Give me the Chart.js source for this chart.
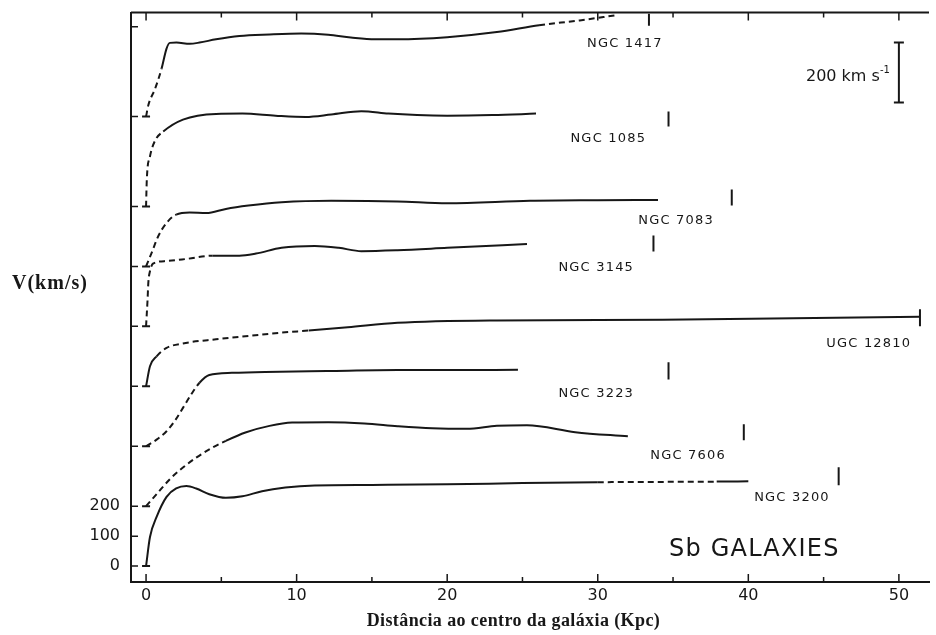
<!DOCTYPE html>
<html>
<head>
<meta charset="utf-8">
<script src="https://cdn.jsdelivr.net/npm/chart.js@4.4.0/dist/chart.umd.min.js"></script>
<style>
  html, body { margin: 0; padding: 0; background: #fff; }
  #wrap { width: 936px; height: 635px; }
</style>
</head>
<body>
<div id="wrap"><canvas id="rot"></canvas></div>
<script>
// rotation curves, radius in kpc, velocity in km/s (each curve shifted up by its offset)
const names   = ['NGC 1417', 'NGC 1085', 'NGC 7083', 'NGC 3145', 'UGC 12810', 'NGC 3223', 'NGC 7606', 'NGC 3200'];
const offsets = [1500, 1200, 1000, 800, 600, 400, 200, 0];

const r1417 = [0, 0.15, 0.6, 1.03, 1.36, 1.58, 2.02, 2.9, 3.55, 4.65, 6.2, 8.2, 10.3, 12.1, 13.6, 15.2, 16.7, 20, 23.3, 26.1, 28.8, 31.2];
const v1417 = [0, 38, 93, 160, 227, 246, 247, 243, 247, 258, 269, 274, 277, 273, 264, 258, 258, 265, 282, 305, 321, 338];

const r1085 = [0, 0.05, 0.26, 0.6, 1.14, 2.45, 4.65, 6.4, 8.6, 10.6, 12.3, 14.3, 16.1, 18, 20, 23, 25.9];
const v1085 = [0, 90, 167, 220, 250, 290, 309, 310, 303, 299, 307, 318, 310, 305, 303, 305, 310];

const r7083 = [0, 0.37, 0.8, 1.36, 2.0, 2.9, 4.0, 5.3, 6.8, 9.0, 12.3, 16.7, 20, 25.5, 30, 34];
const v7083 = [0, 45, 100, 145, 173, 180, 178, 192, 203, 214, 219, 217, 211, 219, 221, 222];

const r3145 = [0, 0.1, 0.15, 0.26, 0.48, 1.36, 2.68, 4.4, 6.2, 7.3, 9.0, 11.2, 12.8, 14.3, 16.7, 20, 25.3];
const v3145 = [0, 89, 145, 184, 210, 218, 225, 236, 236, 243, 262, 268, 262, 251, 254, 262, 275];

const r12810 = [0, 0.26, 0.7, 1.36, 2.45, 4.65, 6.8, 9.0, 10.8, 13.4, 16.7, 23.3, 34.3, 43, 51.4];
const v12810 = [0, 67, 100, 128, 143, 157, 168, 179, 186, 197, 212, 220, 222, 227, 232];

const r3223 = [0, 0.7, 1.36, 1.9, 2.45, 3.0, 3.55, 4.2, 5.7, 7.9, 12, 16.7, 20, 24.7];
const v3223 = [0, 22, 50, 84, 128, 173, 212, 238, 245, 248, 251, 254, 254, 255];

const r7606 = [0, 0.7, 1.58, 2.45, 3.33, 4.43, 5.3, 6.6, 8.2, 9.7, 12.1, 14.5, 16.7, 19, 21.3, 23.3, 25.3, 28.5, 32];
const v7606 = [0, 40, 90, 129, 162, 196, 218, 246, 268, 279, 280, 276, 267, 260, 258, 268, 270, 247, 233];

const r3200 = [0, 0.26, 0.7, 1.36, 2.0, 2.68, 3.33, 4.2, 5.3, 6.4, 7.7, 9.25, 11.2, 15, 20, 25, 30, 34, 37.9, 40];
const v3200 = [0, 97, 164, 231, 259, 267, 259, 240, 228, 233, 250, 262, 269, 271, 273, 277, 280, 281, 282, 283];

// radius ranges drawn dashed
const dashed = [[[0, 1.0], [26.4, 32]], [[0, 1.3]], [[0, 2.0]], [[0, 4.3]], [[0.8, 10.8]], [[0, 3.7]], [[0, 5.3]], [[30.3, 37.8]]];

// short vertical marks beside each curve: radius and velocity span
const markR = [33.4, 34.7, 38.9, 33.7, 51.4, 34.7, 39.7, 46];
const markV = [[303, 343], [267, 317], [203, 257], [250, 303], [200, 257], [223, 280], [220, 273], [270, 330]];

const xTicks = [0, 10, 20, 30, 40, 50];
const yTickLabels = [0, 100, 200];
const yTickMarks = [0, 100, 200, 400, 600, 800, 1000, 1200, 1500, 1800];

const curves = [[r1417, v1417], [r1085, v1085], [r7083, v7083], [r3145, v3145],
                [r12810, v12810], [r3223, v3223], [r7606, v7606], [r3200, v3200]];

// label anchors (data units)
const notes = [[31.8, 1743], [30.7, 1427], [35.2, 1153], [29.9, 997], [48.0, 743], [29.9, 577], [36.0, 370], [42.9, 227]];

const INK = '#171717';

const inDash = (ranges, x) => ranges.some(([a, b]) => x >= a && x <= b);

const datasets = curves.map(([r, v], i) => ({
  data: r.map((x, j) => ({ x: x, y: v[j] + offsets[i] })),
  borderColor: INK,
  borderWidth: 2,
  cubicInterpolationMode: 'monotone',
  pointRadius: c => c.dataIndex === 0 ? 4 : 0,
  pointStyle: 'line',
  pointBorderColor: INK,
  pointBorderWidth: 2,
  segment: {
    borderDash: c => inDash(dashed[i], (c.p0.parsed.x + c.p1.parsed.x) / 2) ? [6, 4] : undefined
  }
}));

const markData = [];
markR.forEach((x, i) => {
  markData.push({ x: x, y: markV[i][0] + offsets[i] }, { x: x, y: markV[i][1] + offsets[i] }, { x: x, y: null });
});
datasets.push({ data: markData, borderColor: INK, borderWidth: 2, pointRadius: 0, spanGaps: false, tension: 0 });

// 200 km/s scale bar
datasets.push({
  data: [{ x: 50, y: 1547 }, { x: 50, y: 1747 }],
  borderColor: INK, borderWidth: 2, tension: 0,
  pointStyle: 'line', pointRadius: 5, pointBorderColor: INK, pointBorderWidth: 2
});

const decor = {
  id: 'decor',
  afterDraw(chart) {
    const { ctx, chartArea: a, scales: { x, y } } = chart;
    ctx.save();
    ctx.strokeStyle = INK;
    ctx.lineWidth = 2;
    ctx.beginPath();
    ctx.moveTo(a.left, a.top);
    ctx.lineTo(a.right, a.top);
    ctx.stroke();

    ctx.lineWidth = 1.5;
    ctx.beginPath();
    for (let k = 0; k <= 50; k += 5) {
      const px = x.getPixelForValue(k);
      const len = k % 10 === 0 ? 8 : 5;
      ctx.moveTo(px, a.bottom); ctx.lineTo(px, a.bottom - len);
      ctx.moveTo(px, a.top); ctx.lineTo(px, a.top + len);
    }
    yTickMarks.forEach(v => {
      const py = y.getPixelForValue(v);
      ctx.moveTo(a.left, py); ctx.lineTo(a.left + 7, py);
    });
    ctx.stroke();

    ctx.fillStyle = INK;
    ctx.textAlign = 'center';
    ctx.textBaseline = 'middle';
    ctx.font = '13px "DejaVu Sans"';
    ctx.letterSpacing = '1.2px';
    names.forEach((n, i) => {
      ctx.fillText(n, x.getPixelForValue(notes[i][0]), y.getPixelForValue(notes[i][1]));
    });

    ctx.font = '24px "DejaVu Sans"';
    ctx.letterSpacing = '1.2px';
    ctx.fillText('Sb GALAXIES', x.getPixelForValue(40.4), y.getPixelForValue(53));

    ctx.letterSpacing = '0px';
    ctx.textAlign = 'right';
    ctx.font = '10px "DejaVu Sans"';
    const sx = x.getPixelForValue(49.4), sy = y.getPixelForValue(1633);
    ctx.fillText('-1', sx, sy - 6);
    const w = ctx.measureText('-1').width;
    ctx.font = '16px "DejaVu Sans"';
    ctx.fillText('200 km s', sx - w, sy);

    ctx.font = 'bold 18px "Liberation Serif"';
    ctx.letterSpacing = '0.4px';
    ctx.textAlign = 'center';
    ctx.fillText('Distância ao centro da galáxia (Kpc)', x.getPixelForValue(24.4), 621);
    ctx.font = 'bold 20px "Liberation Serif"';
    ctx.letterSpacing = '1px';
    ctx.textAlign = 'left';
    ctx.fillText('V(km/s)', 12, 284);
    ctx.restore();
  }
};

new Chart(document.getElementById('rot'), {
  type: 'line',
  data: { datasets: datasets },
  options: {
    responsive: true,
    maintainAspectRatio: false,
    animation: false,
    devicePixelRatio: 1,
    layout: { padding: { top: 12, right: 0, bottom: 0, left: 0 } },
    plugins: { legend: { display: false }, tooltip: { enabled: false } },
    scales: {
      x: {
        type: 'linear', min: -1, max: 52,
        grid: { display: false },
        border: { display: true, color: INK, width: 2 },
        ticks: { color: INK, padding: -4, font: { family: 'DejaVu Sans', size: 16 } },
        afterBuildTicks: s => { s.ticks = xTicks.map(v => ({ value: v })); },
        afterFit: s => { s.height = 53; }
      },
      y: {
        type: 'linear', min: -53, max: 1847,
        grid: { display: false },
        border: { display: true, color: INK, width: 2 },
        ticks: { color: INK, padding: 3, font: { family: 'DejaVu Sans', size: 16 } },
        afterBuildTicks: s => { s.ticks = yTickLabels.map(v => ({ value: v })); },
        afterFit: s => { s.width = 131; }
      }
    }
  },
  plugins: [decor]
});
</script>
</body>
</html>
